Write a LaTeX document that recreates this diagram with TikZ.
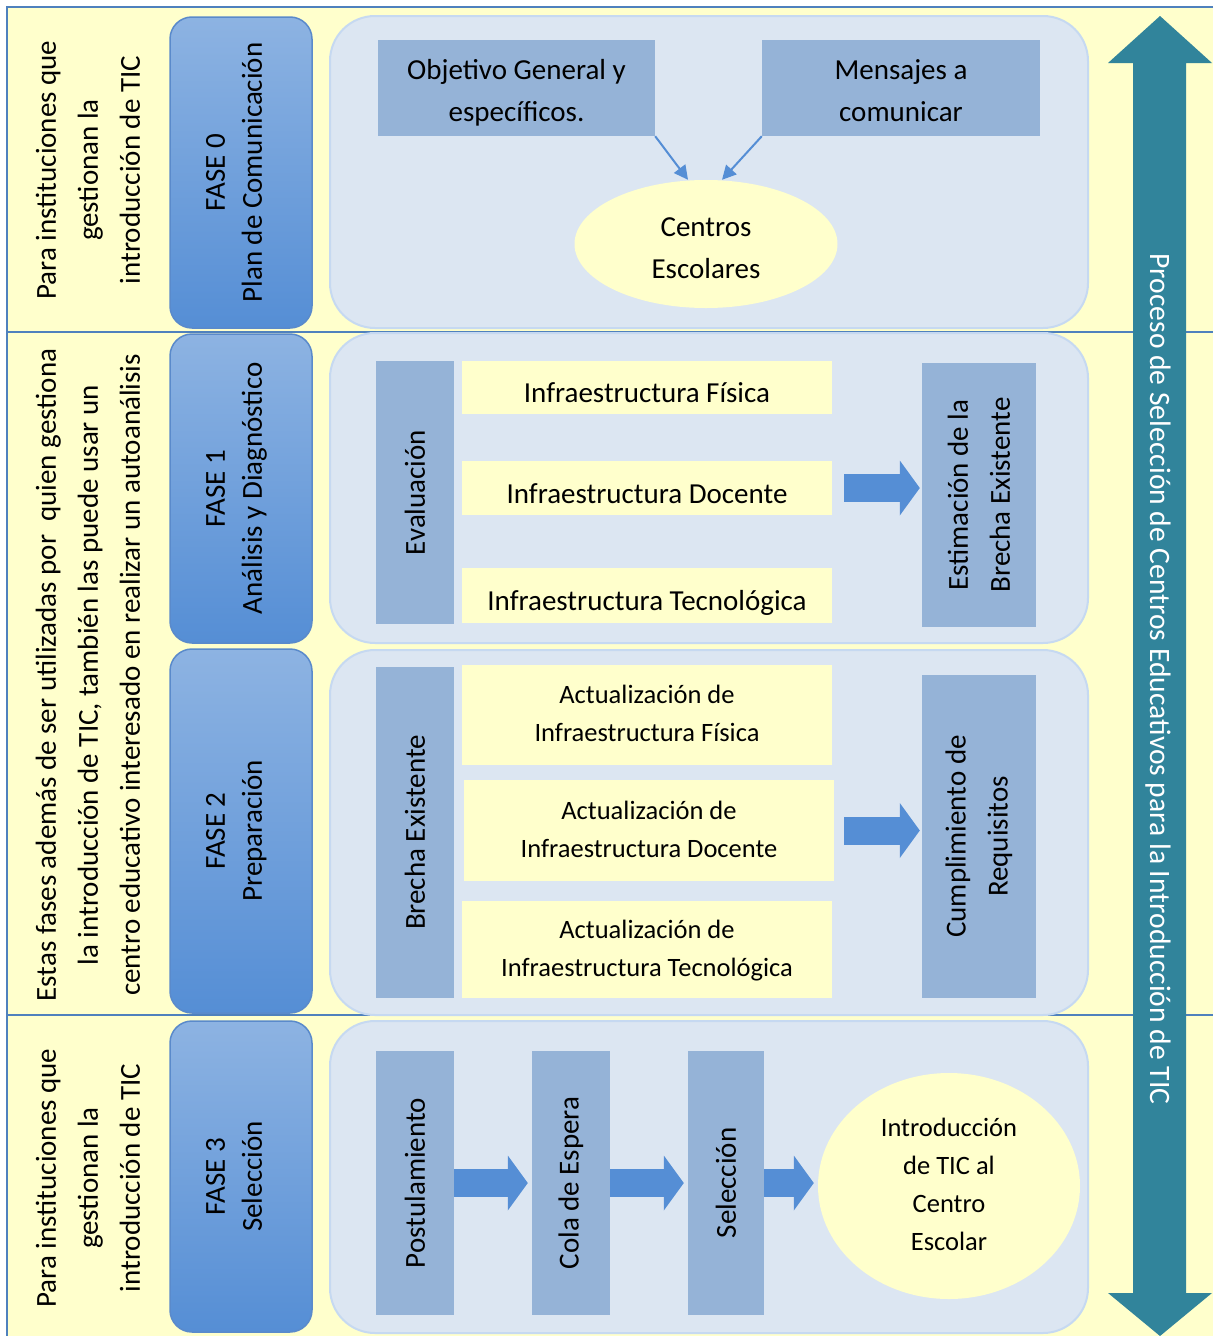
\documentclass[tikz,border=0pt]{standalone}
\usepackage{fontspec}
\setmainfont{Carlito}
\usetikzlibrary{shapes.geometric, arrows.meta, positioning}

\definecolor{fondo}{HTML}{FFFFCC}
\definecolor{marco}{HTML}{4F81BD}
\definecolor{panelfill}{HTML}{DCE6F2}
\definecolor{panelborde}{HTML}{C6D9F1}
\definecolor{fasearriba}{HTML}{8DB3E2}
\definecolor{faseabajo}{HTML}{558ED5}
\definecolor{faseborde}{HTML}{5A8ACB}
\definecolor{cajaazul}{HTML}{95B3D7}
\definecolor{flecha}{HTML}{558ED5}
\definecolor{proceso}{HTML}{31849B}

\begin{document}
\begin{tikzpicture}[
    x=1pt, y=-1pt,
    txt/.style={font=\fontsize{29}{42}\selectfont, align=center},
    small/.style={font=\fontsize{26.5}{38}\selectfont, align=center, text depth=3pt},
    fase/.style={rectangle, rounded corners=22pt, draw=faseborde, line width=1.5pt, top color=fasearriba, bottom color=faseabajo, minimum width=#1, minimum height=142pt, rotate=90, inner sep=0pt, font=\fontsize{29}{37}\selectfont, align=center, text depth=14pt},
    panel/.style={rounded corners=45pt, fill=panelfill, draw=panelborde, line width=2pt},
    hbox/.style={rectangle, fill=cajaazul, inner sep=0pt, txt, text height=67pt, text depth=0pt},
    vbox/.style={rectangle, fill=cajaazul, inner sep=0pt, rotate=90, txt},
    ybox/.style={rectangle, fill=fondo, inner sep=0pt, minimum width=370pt, txt},
    uno/.style={text height=30pt, text depth=0pt},
    elip/.style={ellipse, fill=fondo, inner sep=0pt, txt},
    arrow/.style={-{Triangle[length=14pt, width=14pt]}, draw=flecha, line width=2pt},
    blockarrow/.style={-{Triangle[length=20pt, width=54pt]}, draw=flecha, line width=28pt}
]
\useasboundingbox (0,0) rectangle (1213,1336);

% fondo y marco
\fill[fondo] (7,7) rectangle (1213,1336);
\draw[marco, line width=2.5pt] (1213,7) -- (7,7) -- (7,1336);
\draw[marco, line width=2.5pt] (7,332) -- (1213,332);
\draw[marco, line width=2.5pt] (7,1015) -- (1213,1015);

% textos de la izquierda
\node[txt, rotate=90] (quien0) at (88,170) {Para instituciones que\\gestionan la\\introducción de TIC};
\node[txt, rotate=90] (quien12) at (88,675) {Estas fases además de ser utilizadas por~ quien gestiona\\la introducción de TIC, también las puede usar un\\centro educativo interesado en realizar un autoanálisis};
\node[txt, rotate=90] (quien3) at (88,1178) {Para instituciones que\\gestionan la\\introducción de TIC};

% Fase 0
\node[fase=311pt] (f0) at (241,172.5) {FASE 0\\Plan de Comunicación};
\draw[panel] (330,16) rectangle (1088,328);
\node[hbox, minimum width=277pt, minimum height=96pt] (obj) at (516.5,88) {Objetivo General y\\específicos.};
\node[hbox, minimum width=278pt, minimum height=96pt] (men) at (901,88) {Mensajes a\\comunicar};
\node[elip, text height=69pt, text depth=0pt, minimum width=263pt, minimum height=128pt] (centros) at (706,244) {Centros\\Escolares};
\draw[arrow] (obj.south east) -- ([xshift=-18pt]centros.north);
\draw[arrow] (men.south west) -- ([xshift=16pt]centros.north);

% Fase 1
\node[fase=309pt] (f1) at (241,488.5) {FASE 1\\Análisis y Diagnóstico};
\draw[panel] (330,333) rectangle (1088,643);
\node[vbox, minimum width=263pt, minimum height=78pt] (eval) at (415,492.5) {Evaluación};
\node[ybox, uno, minimum height=53pt] (inffis) at (647,387.5) {Infraestructura Física};
\node[ybox, uno, minimum height=54pt] (infdoc) at (647,488) {Infraestructura Docente};
\node[ybox, uno, minimum height=55pt] (inftec) at (647,595.5) {Infraestructura Tecnológica};
\node[vbox, minimum width=264pt, minimum height=114pt] (estim) at (979,495) {Estimación de la\\Brecha Existente};
% .north de una caja girada es su lado izquierdo
\draw[blockarrow, shorten <=12pt, shorten >=2pt] (infdoc.east) -- (infdoc.east -| estim.north);

% Fase 2
\node[fase=364pt] (f2) at (241,831) {FASE 2\\Preparación};
\draw[panel] (330,650) rectangle (1088,1015);
\node[vbox, minimum width=331pt, minimum height=78pt] (brecha) at (415,832.5) {Brecha Existente};
\node[ybox, small, minimum height=100pt] (actfis) at (647,715) {Actualización de\\Infraestructura Física};
\node[ybox, small, minimum height=101pt] (actdoc) at (649,830.5) {Actualización de\\Infraestructura Docente};
\node[ybox, small, minimum height=97pt] (acttec) at (647,949.5) {Actualización de\\Infraestructura Tecnológica};
\node[vbox, minimum width=323pt, minimum height=114pt] (cumpl) at (979,836.5) {Cumplimiento de\\Requisitos};
\draw[blockarrow, shorten <=10pt, shorten >=2pt] (actdoc.east) -- (actdoc.east -| cumpl.north);

% Fase 3
\node[fase=311pt] (f3) at (241,1176.5) {FASE 3\\Selección};
\draw[panel] (330,1021) rectangle (1088,1333);
\node[vbox, minimum width=264pt, minimum height=78pt] (post) at (415,1183) {Postulamiento};
\node[vbox, minimum width=264pt, minimum height=78pt] (cola) at (571,1183) {Cola de Espera};
\node[vbox, minimum width=264pt, minimum height=76pt] (sel) at (726,1183) {Selección};
\node[elip, small, minimum width=262pt, minimum height=226pt] (intro) at (949,1186) {Introducción\\de TIC al\\Centro\\Escolar};
\draw[blockarrow, shorten >=4pt] (post.south) -- (cola.north);
\draw[blockarrow, shorten >=4pt] (cola.south) -- (sel.north);
\draw[blockarrow, shorten >=4pt] (sel.south) -- (sel.south -| intro.west);

% flecha del proceso
\fill[proceso] (1133,63) -- (1108,63) -- (1160,16) -- (1212,63) -- (1186,63)
    -- (1186,1293) -- (1212,1293) -- (1160,1336) -- (1108,1293) -- (1133,1293) -- cycle;
\node[font=\fontsize{29.6}{34}\selectfont, text=white, rotate=-90] (proc) at (1158,679) {Proceso de Selección de Centros Educativos para la Introducción de TIC};

\end{tikzpicture}
\end{document}
